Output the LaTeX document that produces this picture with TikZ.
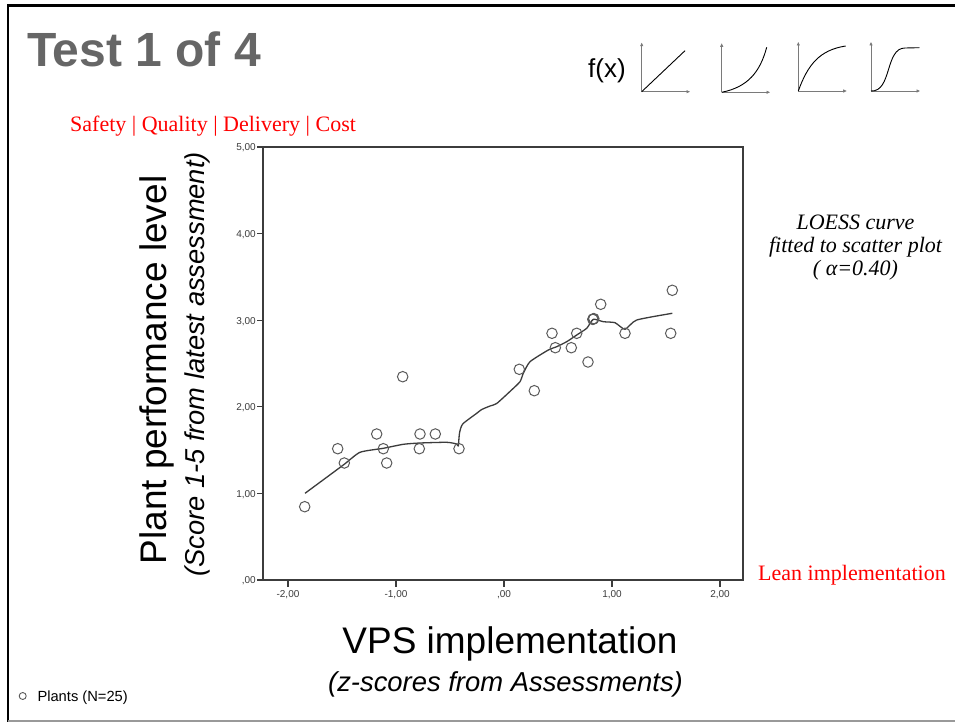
\documentclass[tikz,border=0pt]{standalone}
\usepackage{fontspec}
\setmainfont{Liberation Serif}
\newfontfamily\arial{Liberation Sans}
\usetikzlibrary{arrows.meta}
\definecolor{titlegray}{HTML}{666666}
\definecolor{axgray}{HTML}{3C3C3C}
\definecolor{ptgray}{HTML}{5A5A5A}
\definecolor{icongray}{HTML}{7A7A7A}
\definecolor{leanred}{HTML}{FF0000}
\tikzset{
  plotpt/.style={circle, draw=ptgray, line width=1pt, minimum size=10.5pt, inner sep=0pt},
  axisline/.style={draw=axgray, line width=1.2pt},
  ticklab/.style={inner sep=0pt, text=axgray, font=\arial\fontsize{10}{10}\selectfont},
  iconaxis/.style={draw=icongray, line width=0.8pt, -{Triangle[length=3.5pt,width=3pt]}},
  iconcurve/.style={draw=black, line width=0.9pt},
  redlab/.style={inner sep=0pt, text=leanred, font=\fontsize{22}{22}\selectfont},
  noteline/.style={inner sep=0pt, anchor=base, font=\itshape\fontsize{22}{22}\selectfont},
}
\begin{document}
\begin{tikzpicture}[x=1pt,y=-1pt]
\useasboundingbox (0,0) rectangle (955,722);
\fill[white] (0,0) rectangle (955,722);
% frame
\draw[line width=2.5pt, black] (7.8,722) -- (7.8,5.3) -- (955,5.3);
\draw[line width=1.5pt, gray!80] (7.8,720.8) -- (955,720.8);

% title
\node[anchor=base west, inner sep=0pt, text=titlegray, font=\arial\bfseries\fontsize{48}{48}\selectfont] (title) at (27,66.7) {Test 1 of 4};

% f(x) and icons
\node[anchor=base west, inner sep=0pt, font=\arial\fontsize{26}{26}\selectfont] (fx) at (588,78) {f(x)};
\coordinate (o1) at (641.7,91.7);
\coordinate (o2) at (721.7,92.3);
\coordinate (o3) at (798.3,91);
\coordinate (o4) at (871,91);
\foreach \o/\xe in {o1/690, o2/770, o3/846.7, o4/920}{
  \draw[iconaxis] (\o) -- ++(0,-49);
  \draw[iconaxis] (\o) -- (\xe,0 |- \o);
}
\draw[iconcurve] (o1) -- (685,50.7);
\draw[iconcurve] (o2) .. controls (748,87) and (760,72) .. (766.7,47.3);
\draw[iconcurve] (o3) .. controls (808,64) and (820,50) .. (845.7,46);
\draw[iconcurve] (o4) .. controls (892,92) and (885,48) .. (905,48) -- (919.3,47.7);

% red labels
\node[redlab, anchor=base west] (sqdc) at (70,132) {Safety | Quality | Delivery | Cost};
\node[redlab, anchor=base west] (lean) at (758,580.7) {Lean implementation};

% LOESS note
\node[noteline] (n1) at (855.5,229) {LOESS curve};
\node[noteline] (n2) at (855.5,252) {fitted to scatter plot};
\node[noteline] (n3) at (855.5,275.5) {( α=0.40)};

% plot frame
\draw[axisline] (263,147) rectangle (743,580);
\foreach \k/\lab in {0/{,00},1/{1,00},2/{2,00},3/{3,00},4/{4,00},5/{5,00}}{
  \draw[axisline] (257,580-86.6*\k) -- (263,580-86.6*\k);
  \node[ticklab, anchor=east] (yt\k) at (256,581-86.6*\k) {\lab};
}
\foreach \k/\lab in {-2/{-2,00},-1/{-1,00},0/{,00},1/{1,00},2/{2,00}}{
  \draw[axisline] (504+108*\k,580) -- (504+108*\k,586.5);
  \node[ticklab, anchor=north] (xt\k) at (504+108*\k,590) {\lab};
}

% axis titles
\node[rotate=90, anchor=base, inner sep=0pt, font=\arial\fontsize{37}{37}\selectfont] (ylab) at (166.5,370) {Plant performance level};
\node[rotate=90, anchor=base, inner sep=0pt, font=\arial\itshape\fontsize{27.3}{27.3}\selectfont] (ysub) at (204,364.5) {(Score 1-5 from latest assessment)};
\node[anchor=base, inner sep=0pt, font=\arial\fontsize{37}{37}\selectfont] (xlab) at (510,653) {VPS implementation};
\node[anchor=base, inner sep=0pt, font=\arial\itshape\fontsize{27.4}{27.4}\selectfont] (xsub) at (505.5,691) {(z-scores from Assessments)};

% LOESS curve
\draw[draw=axgray, line width=1.3pt, line join=round] plot[smooth, tension=0.35] coordinates {
 (305,493.3) (343.3,465) (360,452.3) (383.3,448.3) (403.3,444.3) (420,443) (446.7,442.3)
 (456.7,444) (458.3,446) (459.5,433) (462.7,424) (476.7,413.3) (481.7,409.5) (490,406)
 (496.7,403.5) (511,390.5) (520,381.7) (523.3,373.3) (530,361.7) (548.3,350) (556.7,346.7)
 (566.7,341.7) (576.7,335) (586.7,328.3) (593.3,319.3) (603.3,321.7) (615,322.7) (625,329.3)
 (636.7,320) (672.3,313.3)};

% points
\foreach \px/\py [count=\i] in {304.7/506.7, 337.7/448.7, 344.3/463, 376.7/434, 383.3/448.7,
  386.7/463, 402.7/376.7, 420/434, 419.3/448.7, 435.3/434, 459/448.7, 519.3/369.3,
  534.3/390.7, 552/333.3, 555.3/347.7, 576.7/333.3, 571.3/347.7, 588/362, 600.7/304.3,
  625/333.3, 670.7/333.3, 672.3/290.3, 593.3/319, 593.8/318.6, 592.8/319.4}{
  \node[plotpt] (p\i) at (\px,\py) {};
}

% legend
\node[circle, draw=ptgray, line width=0.9pt, minimum size=7pt, inner sep=0pt] (legpt) at (22.7,696) {};
\node[anchor=base west, inner sep=0pt, font=\arial\fontsize{14.7}{14.7}\selectfont] (legtxt) at (37.3,701) {Plants (N=25)};
\end{tikzpicture}
\end{document}
